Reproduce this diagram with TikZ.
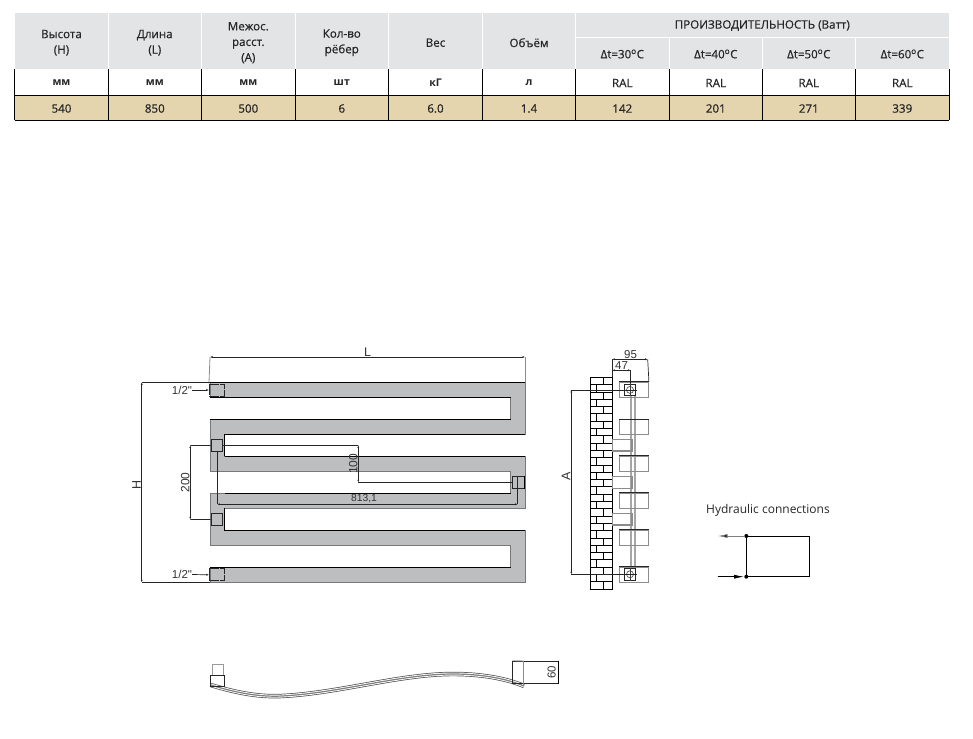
\documentclass[tikz,border=0pt]{standalone}
\usepackage{fontspec}
\setmainfont{Open Sans}
\newfontfamily\cellfont[FakeBold=0.6]{Open Sans}
\newfontfamily\dimfont{Liberation Sans}
\usetikzlibrary{arrows.meta}
\definecolor{headgray}{HTML}{E3E4E6}
\definecolor{datatan}{HTML}{E5D5AF}
\definecolor{steelgray}{HTML}{BDBEC0}
\definecolor{edgegray}{HTML}{77787A}
\definecolor{inkgray}{HTML}{262626}
\tikzset{
  cell/.style={align=center,font=\cellfont\fontsize{11.6}{15.6}\selectfont,text=inkgray,inner sep=0pt},
  unitcell/.style={cell,font=\fontsize{10.6}{13}\selectfont\bfseries},
  dimtext/.style={font=\dimfont\fontsize{11.5}{12}\selectfont,text=black!80,inner sep=0pt},
  dimline/.style={draw=black!85,line width=0.7pt},
  dimarrow/.style={dimline,{Latex[length=2.5pt,width=2pt]}-{Latex[length=2.5pt,width=2pt]}},
  extline/.style={draw=black!45,line width=0.8pt},
  fitting/.style={draw=black!85,line width=0.7pt},
  finbox/.style={draw=black!45,line width=1.2pt},
  hydarrow/.style={line width=0.8pt,-{Latex[length=10pt,width=4pt]}}
}
\begin{document}
\begin{tikzpicture}[x=1pt,y=-1pt]
\useasboundingbox (0,0) rectangle (973,738);
\fill[headgray] (14.7,13) rectangle (949.3,69.3);
\fill[datatan] (14.7,95) rectangle (949.3,120.3);
\foreach \x in {108.3,201.3,295.3,388.3,482.7,575.3} {
\draw[white,line width=1pt] (\x,13) -- (\x,69.3);
}
\draw[white,line width=1pt] (575.3,37.3) -- (949.3,37.3);
\foreach \x in {669.3,762.3,855.3} {
\draw[white,line width=1pt] (\x,37.3) -- (\x,69.3);
}
\foreach \x in {14.7,108.3,201.3,295.3,388.3,482.7,575.3,669.3,762.3,855.3,949.3} {
\draw[black,line width=0.8pt] (\x,69.3) -- (\x,120.3);
}
\draw[black,line width=0.8pt] (14.7,95) -- (949.3,95);
\draw[black,line width=0.8pt] (14.7,120.3) -- (949.3,120.3);
\foreach \n/\x/\hd/\un/\val in {
  1/61.5/{Высота\\(H)}/мм/540,
  2/154.8/{Длина\\(L)}/мм/850,
  3/248.3/{Межос.\\расст.\\(А)}/мм/500,
  4/341.8/{Кол-во\\рёбер}/шт/6,
  5/435.5/Вес/кГ/6.0,
  6/529/Объём/л/1.4} {
\node (head\n) at (\x,42.7) [cell] {\hd};
\node (unit\n) at (\x,83) [unitcell] {\un};
\node (data\n) at (\x,108.5) [cell] {\val};
}
\node (power) at (762.3,25.5) [cell] {ПРОИЗВОДИТЕЛЬНОСТЬ (Ватт)};
\foreach \n/\x/\dt/\val in {7/622.3/30/142,8/715.8/40/201,9/808.8/50/271,10/902.3/60/339} {
\node (head\n) at (\x,54) [cell] {Δt=\dt\textsuperscript{o}C};
\node (unit\n) at (\x,83) [cell] {RAL};
\node (data\n) at (\x,108.5) [cell] {\val};
}
\draw[fill=steelgray,draw=edgegray,line width=0.9pt]
  (210,382.3) -- (525,382.3) -- (525,434.3) -- (224.7,434.3) -- (224.7,456.3) -- (525,456.3)
  -- (525,508.3) -- (224.7,508.3) -- (224.7,530.5) -- (525,530.5) -- (525,582.3) -- (210,582.3)
  -- (210,567.5) -- (510.7,567.5) -- (510.7,545.5) -- (210,545.5) -- (210,493.3) -- (510.7,493.3)
  -- (510.7,471.3) -- (210,471.3) -- (210,419.3) -- (510.7,419.3) -- (510.7,397.3) -- (210,397.3) -- cycle;
\foreach \y/\xa/\xb in {382.3/210/525,397.3/210/510.7,419.3/210/510.7,434.3/224.7/525,456.3/224.7/525,493.3/224.7/510.7,530.5/224.7/525,567.5/210/510.7} {
\draw[black,line width=0.7pt] (\xa,\y) -- (\xb,\y);
}
\draw[black,line width=0.7pt] (224.7,434.3) -- (224.7,456.3);
\draw[black,line width=0.7pt] (224.7,508.3) -- (224.7,530.5);
\node (topin) at (217,390) [fitting,dash pattern=on 10pt off 1pt,minimum width=15.4pt,minimum height=12pt,inner sep=0pt] {};
\node (botin) at (217,574.8) [fitting,dash pattern=on 10pt off 1pt,minimum width=15.4pt,minimum height=12pt,inner sep=0pt] {};
\node (midup) at (216.8,445.5) [fitting,minimum width=11.7pt,minimum height=12.4pt,inner sep=0pt] {};
\node (midlow) at (216.8,519.5) [fitting,minimum width=11.7pt,minimum height=12.4pt,inner sep=0pt] {};
\node (midright) at (518.2,482.3) [fitting,minimum width=11.7pt,minimum height=12pt,inner sep=0pt] {};
\draw[black,line width=1.4pt] (midright.north east) -- (midright.south east);
\coordinate (lleft) at (210,357);
\coordinate (lright) at (525,357);
\draw[extline] (lleft) -- (topin.north west);
\draw[extline] (lright) -- (525,382.3);
\draw[dimarrow] (lleft) -- node (lenlabel) [dimtext,above=0.5pt,font=\dimfont\fontsize{12.5}{13}\selectfont] {L} (lright);
\coordinate (htop) at (141.7,382.3);
\coordinate (hbot) at (141.7,582.3);
\draw[dimline] (htop) -- (210,382.3);
\draw[dimline] (hbot) -- (210,582.3);
\draw[dimarrow] (htop) -- node[pos=0.515] (hlabel) [dimtext,rotate=90,above=0.5pt,font=\dimfont\fontsize{12.5}{13}\selectfont] {H} (hbot);
\node (halftop) at (182,390) [dimtext] {1/2"};
\node (halfbot) at (182,574.5) [dimtext] {1/2"};
\draw[dimline,-{Latex[length=2.5pt,width=2pt]}] (halftop.east) -- (topin.west);
\draw[dimline,-{Latex[length=2.5pt,width=2pt]}] (halfbot.east) -- (botin.west);
\coordinate (twotop) at (190.3,445.4);
\coordinate (twobot) at (190.3,519.4);
\draw[dimline] (twotop) -- (midup.west);
\draw[dimline] (twobot) -- (midlow.west);
\draw[dimarrow] (twotop) -- node (twolabel) [dimtext,rotate=90,above=0.5pt,font=\dimfont\fontsize{12}{13}\selectfont] {200} (twobot);
\coordinate (hundtop) at (358.3,445.4);
\coordinate (hundbot) at (358.3,482.3);
\draw[dimline] (midup.east) -- (hundtop);
\draw[dimline] (hundbot) -- (midright.west);
\draw[dimarrow] (hundtop) -- node (hundlabel) [dimtext,rotate=90,above=0.5pt,font=\dimfont\fontsize{12}{13}\selectfont] {100} (hundbot);
\coordinate (spanleft) at (217.3,504.3);
\coordinate (spanright) at (517.7,504.3);
\draw[dimline] (midup.south -| spanleft) -- (spanleft);
\draw[dimline] (midright.north -| spanright) -- (spanright);
\draw[dimarrow] (spanleft) -- (spanright);
\node (spanlabel) at (364,498.5) [dimtext,font=\dimfont\fontsize{10.3}{12}\selectfont] {813,1};
\draw[black,line width=0.9pt] (590.7,377.3) rectangle (612.3,589);
\draw[black,line width=1.4pt] (612.3,377.3) -- (612.3,589);
\foreach \r [evaluate=\r as \ytop using 377.3+7.3*\r,evaluate=\r as \ybot using 384.6+7.3*\r,evaluate=\r as \xjoint using {mod(\r,2)==0 ? 603.7 : 596.7}] in {0,...,28} {
\draw[black,line width=0.8pt] (590.7,\ybot) -- (612.3,\ybot);
\draw[black,line width=0.8pt] (\xjoint,\ytop) -- (\xjoint,\ybot);
}
\draw[black!35,line width=1.8pt] (631.3,396) -- (631.3,568);
\draw[black!35,line width=1.8pt] (635,396) -- (635,568);
\foreach \n/\y in {1/389.8,2/427,3/463.7,4/500.8,5/537.8,6/574.8} {
\node (fin\n) at (634,\y) [finbox,minimum width=28.6pt,minimum height=15pt,inner sep=0pt] {};
\draw[black!85,line width=0.8pt] (fin\n.north west) -- (fin\n.north east);
}
\foreach \n/\y in {1/445.3,2/482.5,3/519.3} {
\node (stub\n) at (622.2,\y) [finbox,line width=1.5pt,minimum width=19.7pt,minimum height=11.6pt,inner sep=0pt] {};
}
\foreach \n/\y in {top/389.9,bot/574.3} {
\node (valve\n) at (630,\y) [fitting,minimum width=11.4pt,minimum height=11.7pt,inner sep=0pt] {};
\node (ring\n) at (valve\n) [circle,draw=black!75,line width=0.6pt,minimum size=7pt,inner sep=0pt] {};
\draw[black!75,line width=0.5pt] (valve\n.north) -- (valve\n.south);
}
\coordinate (atop) at (571.3,389.9);
\coordinate (abot) at (571.3,574.3);
\draw[dimline] (atop) -- (636.7,389.9);
\draw[dimline] (abot) -- (636.7,574.3);
\draw[dimarrow] (atop) -- node[pos=0.47] (alabel) [dimtext,rotate=90,above=0.5pt,font=\dimfont\fontsize{12.5}{13}\selectfont] {A} (abot);
\coordinate (wall) at (612.3,377.3);
\coordinate (wnine) at (612.3,359.3);
\coordinate (wfour) at (612.3,370.3);
\coordinate (fnine) at (647.7,359.3);
\coordinate (ffour) at (630.7,370.3);
\draw[dimline] (wall) -- (wnine);
\draw[dimline] (fnine) -- (fin1.north east);
\draw[dimline] (ffour) -- (valvetop.north -| ffour);
\draw[dimarrow] (wnine) -- node (ninelabel) [dimtext,above=0.5pt,xshift=0.5pt] {95} (fnine);
\draw[dimarrow] (wfour) -- node (fourlabel) [dimtext,above=0.5pt] {47} (ffour);
\node (hydtitle) at (768,510) [font=\fontsize{12}{13}\selectfont,text=inkgray,inner sep=0pt] {Hydraulic connections};
\coordinate (supplyend) at (717.5,536);
\coordinate (returnend) at (717.5,576.7);
\node (dotup) at (746.3,536) [circle,fill=black,inner sep=0pt,minimum size=4pt] {};
\node (dotlow) at (746.3,576.7) [circle,fill=black,inner sep=0pt,minimum size=4pt] {};
\draw[black,line width=0.8pt] (dotup.center) -- (809.7,536) -- (809.7,576.7) -- (dotlow.center) -- cycle;
\draw[hydarrow,draw=black!50,-{Latex[length=10pt,width=4pt,fill=black]}] (dotup) -- (supplyend);
\draw[hydarrow,draw=black] (returnend) -- (dotlow);
\def\ribbon{(210.7,685) .. controls (240,694) and (262,697) .. (282,696) .. controls (340,693) and (400,674) .. (453,674) .. controls (480,674) and (505,678) .. (524,686)}
\draw[black!70,line width=4.4pt] \ribbon;
\draw[white,line width=3pt] \ribbon;
\draw[black!50,line width=1.2pt] \ribbon;
\node (lefttop) at (218,669.7) [draw=black!40,line width=0.8pt,minimum width=11.4pt,minimum height=10.7pt,inner sep=0pt] {};
\node (leftbox) at (217.7,680.9) [fitting,minimum width=14pt,minimum height=11.7pt,inner sep=0pt] {};
\node (rightbox) at (535.5,672.2) [fitting,minimum width=45.6pt,minimum height=22.3pt,inner sep=0pt] {};
\coordinate (rightcut) at (523.7,661);
\draw[black!40,line width=0.9pt] (rightbox.north west) -- (rightcut);
\draw[black!45,line width=0.9pt] (rightcut) -- (523.7,685);
\draw[black,line width=1pt] (rightbox.north east) -- (rightbox.south east);
\node (sixty) at (551.7,672) [dimtext,rotate=90] {60};
\end{tikzpicture}
\end{document}
